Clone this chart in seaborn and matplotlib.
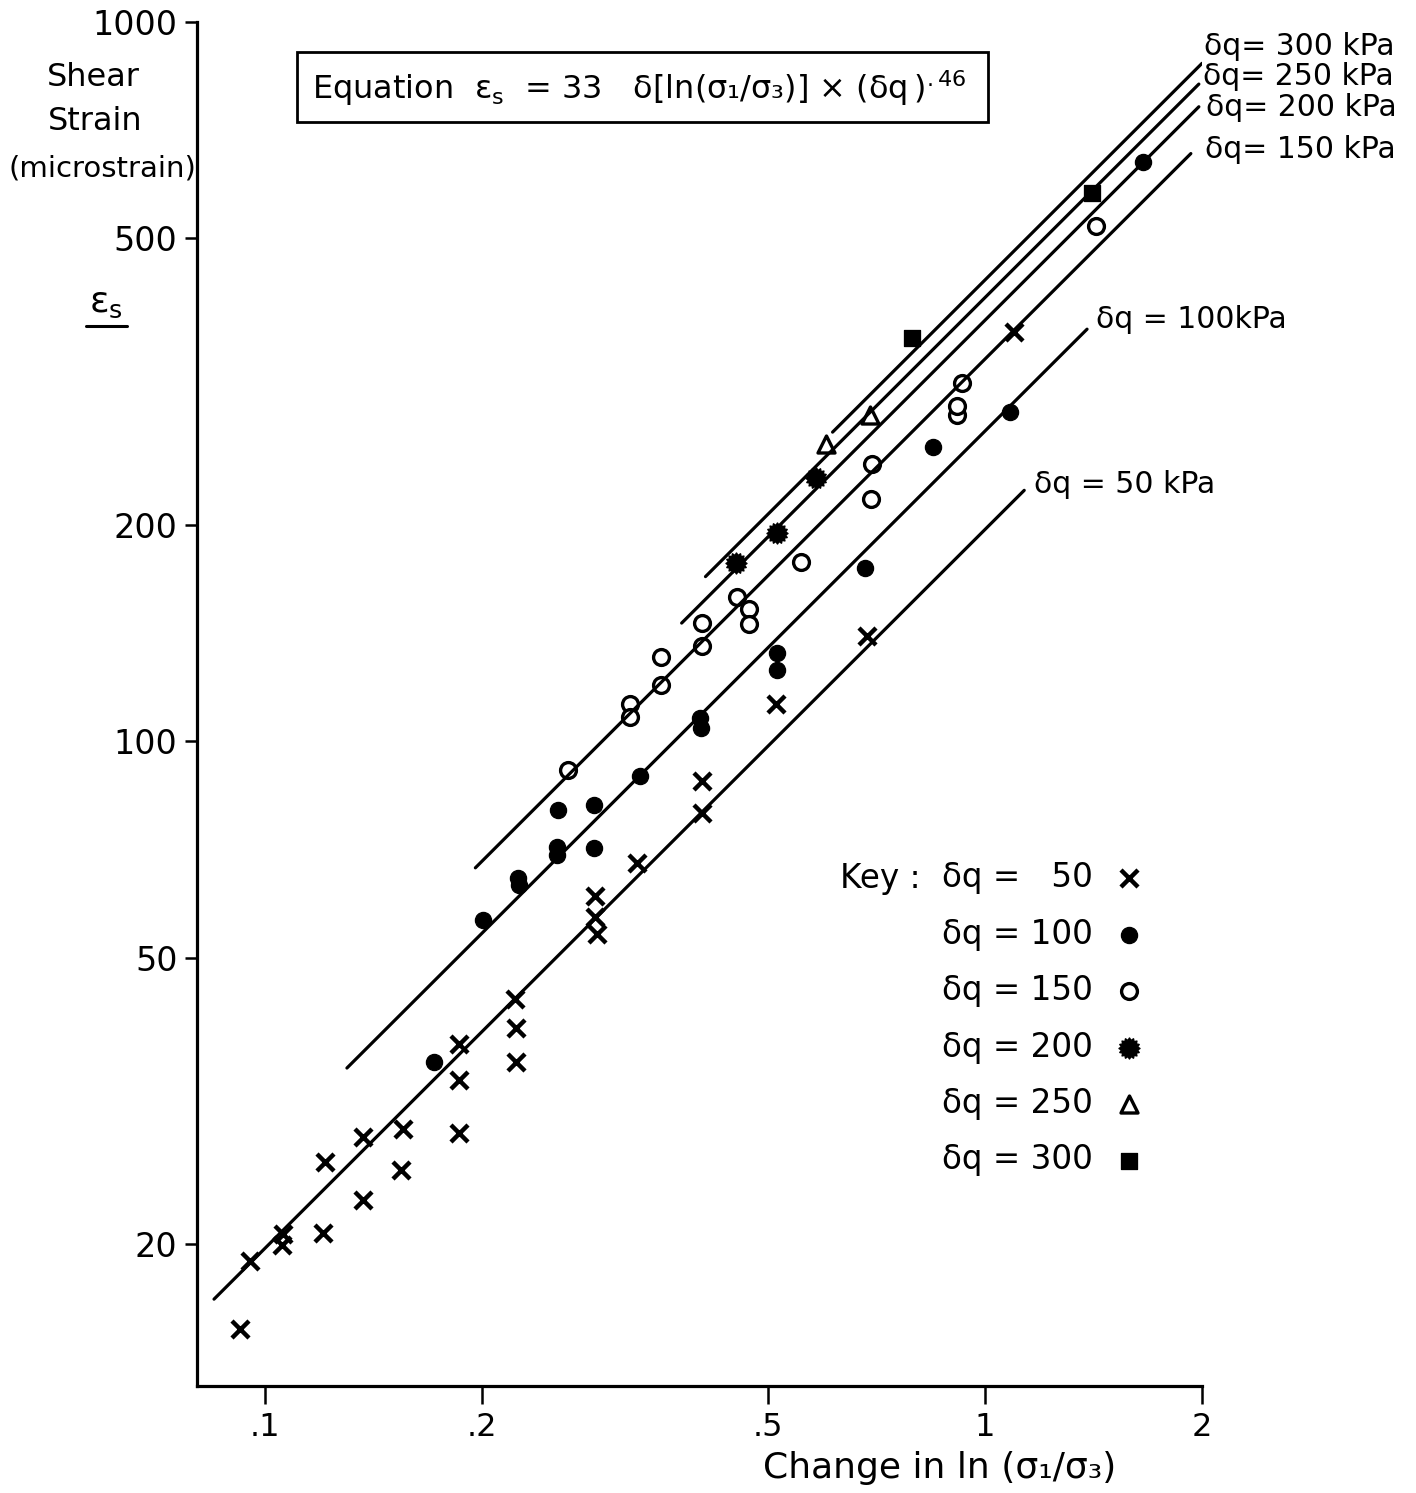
import numpy as np
import matplotlib
matplotlib.use("Agg")
import matplotlib.pyplot as plt
import seaborn as sns
from matplotlib.patches import Rectangle
from matplotlib.lines import Line2D
from matplotlib.path import Path

# change in ln(s1/s3) and shear strain (microstrain)
dq50_x = [0.0923, 0.0953, 0.1059, 0.1055, 0.1204, 0.1211, 0.1368, 0.1368, 0.1544, 0.1554,
          0.1858, 0.1858, 0.1858, 0.2229, 0.2229, 0.2223, 0.2869, 0.2869, 0.2887, 0.3291,
          0.405, 0.405, 0.513, 0.686, 1.097]
dq50_y = [15.2, 18.9, 20.6, 19.9, 20.7, 26.0, 23.0, 28.1, 25.3, 28.9,
          28.5, 33.8, 37.9, 35.8, 39.9, 43.8, 60.9, 56.9, 53.9, 67.7,
          79.4, 88.0, 112.6, 140.0, 370.5]

dq100_x = [0.1715, 0.2006, 0.2243, 0.2251, 0.2541, 0.2541, 0.2549, 0.286, 0.286, 0.3322,
           0.4024, 0.4036, 0.5146, 0.5146, 0.6818, 0.847, 1.083, 1.656]
dq100_y = [35.8, 56.4, 64.5, 63.1, 71.2, 69.4, 80.2, 71.0, 81.5, 89.4,
           107.6, 104.3, 132.6, 125.5, 174.0, 256.4, 286.8, 638.7]

dq150_x = [0.2632, 0.3208, 0.3208, 0.3553, 0.3553, 0.405, 0.405, 0.4529, 0.4706, 0.4706,
           0.5557, 0.695, 0.6972, 0.9145, 0.9145, 0.9292, 1.426]
dq150_y = [91.1, 112.6, 108.0, 119.6, 130.9, 135.6, 145.9, 158.6, 152.6, 145.4,
           177.4, 217.0, 242.8, 284.0, 292.4, 314.7, 520.3]

dq200_x = [0.4515, 0.5146, 0.5831]
dq200_y = [176.8, 194.7, 232.2]

dq250_x = [0.6018, 0.6926]
dq250_y = [258.9, 284.0]

dq300_x = [0.7923, 1.407]
dq300_y = [363.6, 578.3]

# fitted lines: strain at unit change, and the x range each line covers
line_dq = [50, 100, 150, 200, 250, 300]
line_at_one = [197, 270, 340, 385, 414, 438]
line_start = [0.085, 0.13, 0.196, 0.379, 0.409, 0.614]
line_end = [1.133, 1.385, 1.93, 1.98, 1.98, 2.0]
# label offset from line end, pixels
label_dx = [10, 9, 14, 7, 4, 2]
label_dy = [6, 10, 4, -1, 8, 17]
label_txt = ["δq = 50 kPa", "δq = 100kPa", "δq= 150 kPa",
             "δq= 200 kPa", "δq= 250 kPa", "δq= 300 kPa"]

x_ticks = [0.1, 0.2, 0.5, 1, 2]
x_ticklabels = [".1", ".2", ".5", "1", "2"]
y_ticks = [20, 50, 100, 200, 500, 1000]

sns.set_style("ticks")
plt.rcParams["font.family"] = ["DejaVu Sans"]
plt.rcParams["mathtext.fontset"] = "dejavusans"
for k in ["text.color", "axes.labelcolor", "xtick.color", "ytick.color", "axes.edgecolor"]:
    plt.rcParams[k] = "black"

# notched disc marker for dq = 200
ang = np.linspace(0, 2 * np.pi, 33)[:-1]
rad = np.where(np.arange(32) % 2 == 0, 1.0, 0.78)
cog = Path(np.column_stack([rad * np.cos(ang), rad * np.sin(ang)]).tolist() + [[1.0, 0.0]], closed=True)

W, H = 1416, 1493
fig = plt.figure(figsize=(W / 100, H / 100), dpi=100)
ax = fig.add_axes([197 / W, 1 - 1386 / H, (1202 - 197) / W, (1386 - 22) / H])
ax.set_xscale("log")
ax.set_yscale("log")

for dq, c, x0, x1 in zip(line_dq, line_at_one, line_start, line_end):
    sns.lineplot(x=[x0, x1], y=[c * x0, c * x1], color="black", lw=2.3, ax=ax)

fs = 23
lab = lambda v: "δq = " + ("\u2007" + str(v) if v < 100 else str(v))
sns.scatterplot(x=dq50_x, y=dq50_y, marker="x", s=150, color="black", linewidth=3.2, ax=ax, label=lab(50))
sns.scatterplot(x=dq100_x, y=dq100_y, marker="o", s=135, color="black", edgecolor="black", ax=ax, label=lab(100))
sns.scatterplot(x=dq150_x, y=dq150_y, marker="o", s=130, facecolor="white", edgecolor="black", linewidth=2.4, ax=ax, label=lab(150))
sns.scatterplot(x=dq200_x, y=dq200_y, marker=cog, s=230, color="black", edgecolor="black", linewidth=1, ax=ax, label=lab(200))
sns.scatterplot(x=dq250_x, y=dq250_y, marker="^", s=150, facecolor="white", edgecolor="black", linewidth=2.4, ax=ax, label=lab(250))
sns.scatterplot(x=dq300_x, y=dq300_y, marker="s", s=135, color="black", edgecolor="black", ax=ax, label=lab(300))

for i, x1 in enumerate(line_end):
    ax.annotate(label_txt[i], xy=(x1, line_at_one[i] * x1), xytext=(label_dx[i], label_dy[i]),
                textcoords="offset pixels", fontsize=fs - 1.5, va="center", ha="left", annotation_clip=False)

ax.set_xlim(0.0805, 2.0)
ax.set_ylim(12.68, 1000)
ax.set_xticks(x_ticks, x_ticklabels)
ax.set_yticks(y_ticks, [str(v) for v in y_ticks])
ax.minorticks_off()
ax.tick_params(axis="x", length=13, width=1.8, pad=6, labelsize=fs)
ax.tick_params(axis="y", length=9, width=1.8, pad=5, labelsize=fs + 1)
for s in ["top", "right"]:
    ax.spines[s].set_visible(False)
for s in ["left", "bottom"]:
    ax.spines[s].set_linewidth(2.3)
ax.set_xlabel("")
ax.set_ylabel("")

leg = ax.legend(loc="upper right", bbox_to_anchor=(1145 / W, 1 - 861 / H), bbox_transform=fig.transFigure,
                markerfirst=False, frameon=False, fontsize=fs + 0.5, labelspacing=0.72, handletextpad=0.6,
                handlelength=1.0, borderpad=0, borderaxespad=0)
fig.text(840 / W, 1 - 878 / H, "Key :", fontsize=fs + 0.5, va="center", ha="left")

# equation box
fig.add_artist(Rectangle((297 / W, 1 - 122 / H), (988 - 297) / W, 70 / H, transform=fig.transFigure,
                         fill=False, edgecolor="black", lw=2))
fig.text(312 / W, 1 - 88 / H,
         "Equation  " + r"$\mathrm{\varepsilon}_\mathrm{s}$" + "  = 33   δ[ln(σ₁/σ₃)] × (δq" + r"$\,)^{.46}$",
         fontsize=fs, va="center", ha="left")

# y axis title
fig.text(93 / W, 1 - 77 / H, "Shear", fontsize=fs, ha="center", va="center")
fig.text(95 / W, 1 - 122 / H, "Strain", fontsize=fs, ha="center", va="center")
fig.text(102 / W, 1 - 168 / H, "(microstrain)", fontsize=fs - 2, ha="center", va="center")
fig.text(106 / W, 1 - 303 / H, r"$\mathrm{\varepsilon}_\mathrm{s}$", fontsize=fs + 3, ha="center", va="center")
fig.add_artist(Line2D([86 / W, 127 / W], [1 - 326 / H, 1 - 326 / H], color="black", lw=2.2,
                      transform=fig.transFigure))

fig.text(940 / W, 1 - 1468 / H, "Change in ln (σ₁/σ₃)", fontsize=fs + 3, ha="center", va="center")

fig.savefig("out.png", dpi=100)
